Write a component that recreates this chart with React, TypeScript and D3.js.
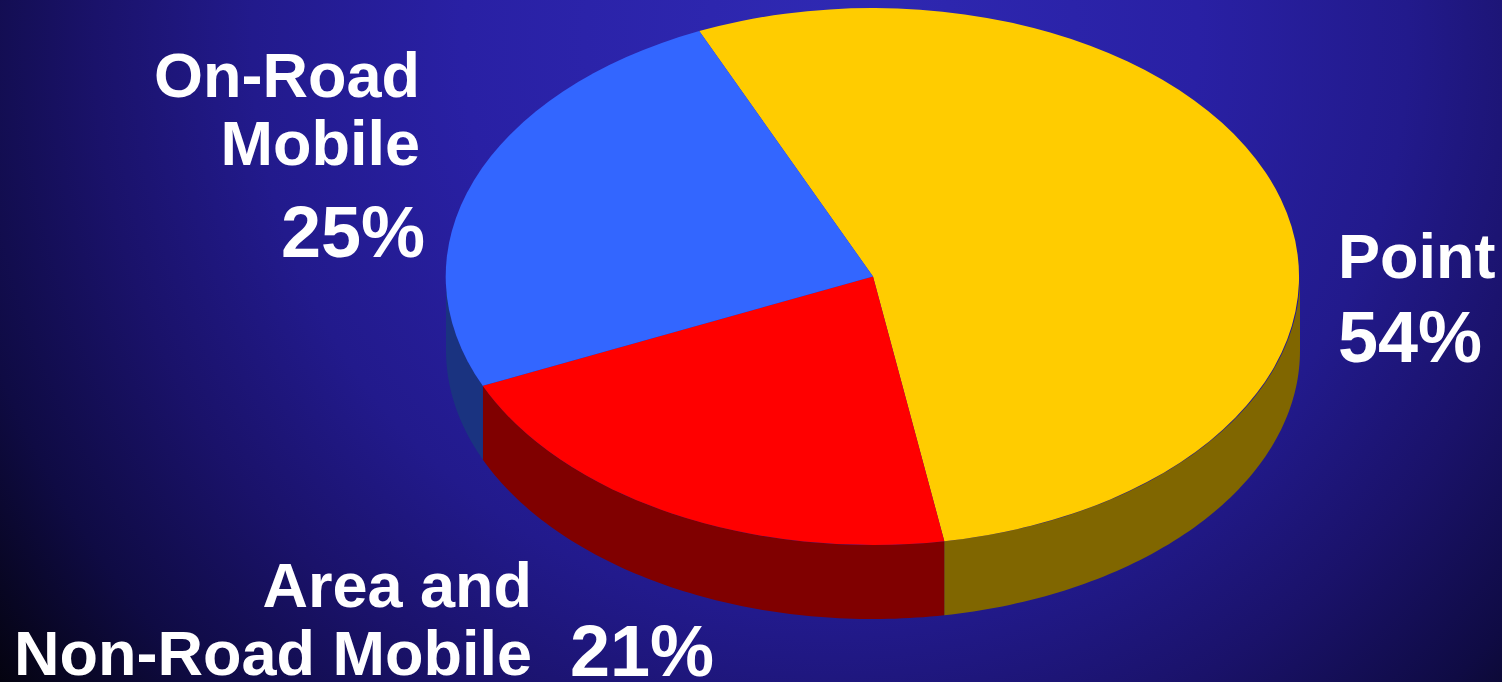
import React from "react";
import * as d3 from "d3";

const categories = ["Point", "Area and Non-Road Mobile", "On-Road Mobile"];
const values = [54, 21, 25];
const topColors = ["#FFCC00", "#FF0000", "#3366FF"];
const sideColors = ["#806600", "#800000", "#1A3380"];

const W = 1502;
const H = 682;
const CX = 873;
const CY = 276.5;
const RX = 427;
const RY = 268.5;
const DEPTH = 74;
const START = (-24 * Math.PI) / 180;

function pt(a: number, dy = 0): [number, number] {
  return [CX + RX * Math.sin(a), CY - RY * Math.cos(a) + dy];
}

export default function App() {
  const pie = d3
    .pie<number>()
    .sort(null)
    .startAngle(START)
    .endAngle(START + 2 * Math.PI)
    .value((d) => d);
  const arcs = pie(values);
  const arcGen = d3.arc<any>().innerRadius(0).outerRadius(1);

  const line = d3.line();
  const walls = arcs.map((a, i) => {
    const segs: string[] = [];
    for (const off of [-2 * Math.PI, 0, 2 * Math.PI]) {
      const s = Math.max(a.startAngle + off, Math.PI / 2);
      const e = Math.min(a.endAngle + off, (3 * Math.PI) / 2);
      if (e > s) {
        const n = 80;
        const top: [number, number][] = [];
        const bot: [number, number][] = [];
        for (let k = 0; k <= n; k++) {
          const t = s + ((e - s) * k) / n;
          top.push(pt(t));
          bot.push(pt(t, DEPTH));
        }
        segs.push((line([...top, ...bot.reverse()]) || "") + "Z");
      }
    }
    return { d: segs.join(""), fill: sideColors[i] };
  });

  const font = "'Liberation Sans', Arial, sans-serif";

  return (
    <svg
      width={W}
      height={H}
      style={{ position: "absolute", left: 0, top: 0, display: "block" }}
    >
      <defs>
        <radialGradient
          id="bg"
          gradientUnits="userSpaceOnUse"
          cx={830}
          cy={40}
          r={1050}
          fx={830}
          fy={40}
        >
          <stop offset="0" stopColor="#2f29b3" />
          <stop offset="0.35" stopColor="#2920a4" />
          <stop offset="0.55" stopColor="#221a8c" />
          <stop offset="0.7" stopColor="#1a126a" />
          <stop offset="0.85" stopColor="#0f0b44" />
          <stop offset="1" stopColor="#04030f" />
        </radialGradient>
      </defs>
      <rect x={0} y={0} width={W} height={H} fill="url(#bg)" />
      {walls.map((w, i) => (
        <path key={"w" + i} d={w.d} fill={w.fill} />
      ))}
      {arcs.map((a, i) => (
        <path
          key={"t" + i}
          d={arcGen(a) || ""}
          fill={topColors[i]}
          transform={`translate(${CX},${CY}) scale(${RX},${RY})`}
        />
      ))}
      <g fill="#ffffff" fontFamily={font} fontWeight="bold">
        <text x={420} y={97} fontSize={63} textAnchor="end">On-Road</text>
        <text x={420} y={165} fontSize={63} textAnchor="end">Mobile</text>
        <text x={425} y={257} fontSize={72} textAnchor="end">{values[2]}%</text>
        <text x={1338} y={278} fontSize={63}>{categories[0]}</text>
        <text x={1338} y={362} fontSize={72}>{values[0]}%</text>
        <text x={532} y={607} fontSize={63} textAnchor="end">Area and</text>
        <text x={532} y={675} fontSize={63} textAnchor="end">Non-Road Mobile</text>
        <text x={570} y={676} fontSize={72}>{values[1]}%</text>
      </g>
    </svg>
  );
}
